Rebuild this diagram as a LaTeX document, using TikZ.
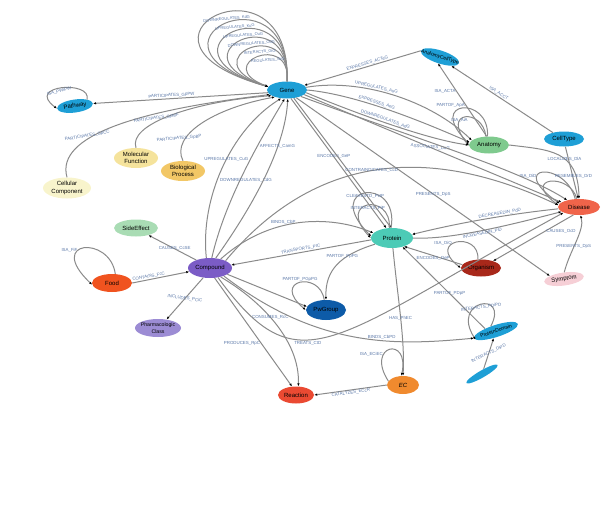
\documentclass[tikz,border=0pt]{standalone}
\usepackage{fontspec}
\setmainfont{Liberation Sans}
\usetikzlibrary{arrows.meta,shapes.geometric}
\definecolor{edgegray}{HTML}{8A8A8A}
\definecolor{lblblue}{HTML}{5B78A8}
\definecolor{genec}{HTML}{1E9FD6}
\definecolor{mfc}{HTML}{F5E39C}
\definecolor{bpc}{HTML}{F2C766}
\definecolor{ccc}{HTML}{F8F4CC}
\definecolor{anac}{HTML}{7FCA8E}
\definecolor{disc}{HTML}{F0644A}
\definecolor{protc}{HTML}{4CCBB6}
\definecolor{orgc}{HTML}{A8281A}
\definecolor{symc}{HTML}{F6CFD6}
\definecolor{sec}{HTML}{A9DCB4}
\definecolor{compc}{HTML}{7B5CC6}
\definecolor{foodc}{HTML}{F0531F}
\definecolor{pcc}{HTML}{9C8CD4}
\definecolor{pgc}{HTML}{0D5BA8}
\definecolor{reacc}{HTML}{EA4A32}
\definecolor{ecc}{HTML}{F08A2E}

\begin{document}
\begin{tikzpicture}[x=1pt, y=-1pt,
  ent/.style={ellipse, fill=#1, minimum width=40pt, minimum height=17pt, inner sep=0pt, align=center, font=\fontsize{6}{7.2}\selectfont},
  arrow/.style={-{Latex[length=3pt,width=2.4pt,color=black]}, draw=edgegray, line width=1pt},
  lbl/.style={font=\fontsize{4.4}{5}\selectfont, text=lblblue, inner sep=0.5pt}
]
\useasboundingbox (0,0) rectangle (615,512);

\node[ent=genec] (gene) at (287,90) {Gene};
\node[ent=genec, minimum width=36pt, minimum height=13pt, rotate=8] (pathway) at (75,106) {Pathway};
\node[ent=mfc, minimum width=44pt, minimum height=20pt] (molfun) at (136,158) {Molecular\\Function};
\node[ent=bpc, minimum width=44pt, minimum height=20pt] (bioproc) at (183,171) {Biological\\Process};
\node[ent=ccc, minimum width=48pt, minimum height=21pt, inner xsep=-3pt] (cellcomp) at (67,188) {Cellular\\Component};
\node[ent=genec, minimum height=13pt, rotate=-18, inner xsep=-8pt, font=\fontsize{5}{5}\selectfont] (actype) at (440,57) {AnatomyCellType};
\node[ent=anac] (anatomy) at (489,145) {Anatomy};
\node[ent=genec, minimum height=15pt] (celltype) at (564,139) {CellType};
\node[ent=disc, minimum width=42pt, minimum height=16pt] (disease) at (579,207) {Disease};
\node[ent=protc, minimum width=42pt, minimum height=20pt] (protein) at (392,238) {Protein};
\node[ent=orgc] (organism) at (481,268) {Organism};
\node[ent=symc, minimum height=13pt, rotate=8] (symptom) at (564,279) {Symptom};
\node[ent=sec, minimum width=44pt] (sideeff) at (136,228) {SideEffect};
\node[ent=compc, minimum width=44pt, minimum height=20pt] (compound) at (210,268) {Compound};
\node[ent=foodc, minimum height=18pt] (food) at (112,283) {Food};
\node[ent=pcc, minimum width=46pt, minimum height=18pt, inner xsep=-6pt, font=\fontsize{5.2}{7}\selectfont] (pharm) at (158,328) {Pharmacologic\\Class};
\node[ent=pgc, minimum height=20pt] (pwgroup) at (326,310) {PwGroup};
\node[ent=genec, minimum width=46pt, minimum height=12pt, rotate=18, inner xsep=-8pt, font=\fontsize{5}{5}\selectfont] (domain) at (496,331) {ProteinDomain};
\node[ent=genec, minimum width=36pt, minimum height=7pt, rotate=30] (domainb) at (482,374) {};
\node[ent=reacc, minimum width=36pt] (reaction) at (296,395) {Reaction};
\node[ent=ecc, minimum width=32pt, minimum height=18pt, font=\fontsize{6}{7}\selectfont\itshape] (ec) at (403,385) {EC};

\foreach \k/\rel in {0/DOWNREGULATES\_KdG, 1/UPREGULATES\_KuG, 2/UPREGULATES\_OuG, 3/DOWNREGULATES\_OdG, 4/INTERACTS\_GiG, 5/REGULATES\_GrG}
  \draw[arrow] (gene.north) .. controls (292,{-55+17*\k}) and ({100+22*\k},{40+5*\k}) .. node[lbl, pos=0.5, anchor=north, xshift=10pt, yshift=-1pt, rotate=5, font=\fontsize{4}{4.5}\selectfont] {\rel} (gene.170);

\draw[arrow] (gene.188) -- node[lbl, pos=0.55, above, sloped] {PARTICIPATES\_GpPW} (pathway.east);
\draw[arrow] (pathway.north east) .. controls (92,80) and (25,85) .. node[lbl, pos=0.55, below, rotate=15] {ISA\_PWiPW} (pathway.west);
\draw[arrow] (cellcomp.north) .. controls (55,135) and (140,110) .. node[lbl, pos=0.35, above, rotate=10] {PARTICIPATES\_GpCC} (gene.195);
\draw[arrow] (molfun.north) .. controls (128,125) and (190,102) .. node[lbl, pos=0.4, above, rotate=8] {PARTICIPATES\_GpMF} (gene.200);
\draw[arrow] (bioproc.north) .. controls (170,135) and (215,108) .. node[lbl, pos=0.25, above, xshift=-4pt, rotate=5] {PARTICIPATES\_GpBP} (gene.210);

\draw[arrow] (actype.west) -- node[lbl, pos=0.45, above, sloped] {EXPRESSES\_ACTeG} (gene.15);
\draw[arrow] (gene.8) .. controls (360,78) and (430,100) .. node[lbl, pos=0.4, above, sloped] {UPREGULATES\_AuG} (anatomy.165);
\draw[arrow] (gene.0) .. controls (360,95) and (430,125) .. node[lbl, pos=0.4, above, sloped] {EXPRESSES\_AeG} (anatomy.172);
\draw[arrow] (gene.-8) .. controls (360,115) and (430,140) .. node[lbl, pos=0.45, above, sloped] {DOWNREGULATES\_AdG} (anatomy.180);
\draw[arrow] (anatomy.100) .. controls (490,95) and (425,100) .. node[lbl, pos=0.5, above, xshift=-12pt] {PARTOF\_ApA} (anatomy.176);
\draw[arrow] (anatomy.110) .. controls (483,108) and (440,110) .. node[lbl, pos=0.5, below, xshift=-6pt] {ISA\_AiA} (anatomy.182);
\draw[arrow] (anatomy.105) -- node[lbl, pos=0.62, left] {ISA\_ACTA} (actype.south);
\draw[arrow] (celltype.150) -- node[lbl, pos=0.55, above, sloped] {ISA\_ACCT} (actype.-20);
\draw[arrow] (anatomy.east) .. controls (550,150) and (578,150) .. node[lbl, pos=0.58] {LOCALIZES\_DlA} (disease.north);
\draw[arrow] (celltype.-80) -- (disease.95);
\draw[arrow] (disease.115) .. controls (565,160) and (505,165) .. node[lbl, pos=0.65, left] {ISA\_DiD} (disease.170);
\draw[arrow] (disease.105) .. controls (570,172) and (520,177) .. node[lbl, pos=0.05, anchor=south, yshift=16pt, xshift=-2pt] {RESEMBLES\_DrD} (disease.175);

\draw[arrow] (gene.-15) -- node[lbl, pos=0.49, rotate=-5] {ASSOCIATES\_DaG} (disease.165);
\draw[arrow] (gene.-25) .. controls (420,140) and (520,170) .. (disease.150);
\draw[arrow] (gene.-40) -- node[lbl, pos=0.54] {PRESENTS\_DpS} (symptom.160);
\draw[arrow] (gene.-65) -- node[lbl, pos=0.45] {ENCODES\_GeP} (protein.120);
\draw[arrow] (gene.-50) -- (protein.95);

\draw[arrow] (compound.110) .. controls (200,200) and (230,130) .. node[lbl, pos=0.55] {UPREGULATES\_CuG} (gene.235);
\draw[arrow] (compound.80) .. controls (225,200) and (260,140) .. node[lbl, pos=0.45, xshift=6pt] {DOWNREGULATES\_CdG} (gene.255);
\draw[arrow] (compound.60) .. controls (250,210) and (285,150) .. node[lbl, pos=0.7] {AFFECTS\_CamG} (gene.275);
\draw[arrow] (compound.150) -- node[lbl, pos=0.45] {CAUSES\_CcSE} (sideeff.-30);
\draw[arrow] (food.east) -- node[lbl, pos=0.3, above, sloped] {CONTAINS\_FcC} (compound.190);
\draw[arrow] (food.70) .. controls (110,235) and (45,240) .. node[lbl, pos=0.6, left] {ISA\_FiF} (food.185);
\draw[arrow] (compound.235) -- node[lbl, pos=0.5, rotate=-8] {INCLUDES\_PCiC} (pharm.45);
\draw[arrow] (protein.185) -- node[lbl, pos=0.5, above, sloped] {TRANSPORTS\_PtC} (compound.8);
\draw[arrow] (compound.40) .. controls (270,215) and (330,215) .. node[lbl, pos=0.4, above] {BINDS\_CbP} (protein.165);
\draw[arrow] (compound.25) .. controls (310,160) and (420,140) .. node[lbl, pos=0.5] {CONTRAINDICATES\_CcD} (disease.175);

\draw[arrow] (protein.95) .. controls (400,175) and (320,185) .. node[lbl, pos=0.5, below] {CLEAVESTO\_PctP} (protein.175);
\draw[arrow] (protein.105) .. controls (392,192) and (335,200) .. node[lbl, pos=0.5, below] {INTERACTS\_PiP} (protein.180);
\draw[arrow] (disease.185) .. controls (500,215) and (450,225) .. node[lbl, pos=0.35, above, sloped] {DECREASEDIN\_PdD} (protein.10);
\draw[arrow] (protein.0) .. controls (450,240) and (510,225) .. node[lbl, pos=0.5, below, sloped] {INCREASEDIN\_PiD} (disease.195);
\draw[arrow] (organism.110) .. controls (480,230) and (425,240) .. node[lbl, pos=0.58, left] {ISA\_OiO} (organism.180);
\draw[arrow] (organism.170) -- node[lbl, pos=0.5, below] {ENCODES\_OeP} (protein.-35);
\draw[arrow] (disease.235) -- node[lbl, pos=0.35, right] {CAUSES\_OcD} (organism.30);
\draw[arrow] (symptom.80) .. controls (570,250) and (585,230) .. node[lbl, pos=0.4] {PRESENTS\_DpS} (disease.-80);

\draw[arrow] (protein.200) .. controls (340,255) and (325,270) .. node[lbl, pos=0.4, above] {PARTOF\_PpPG} (pwgroup.north);
\draw[arrow] (pwgroup.100) .. controls (320,270) and (270,280) .. node[lbl, pos=0.5, above] {PARTOF\_PGpPG} (pwgroup.180);
\draw[arrow] (compound.-20) -- (pwgroup.170);
\draw[arrow] (compound.-65) -- node[lbl, pos=0.6, left] {PRODUCES\_RpC} (reaction.115);
\draw[arrow] (compound.-40) .. controls (260,300) and (300,340) .. node[lbl, pos=0.45] {CONSUMES\_RcC} (reaction.75);
\draw[arrow] (compound.-50) .. controls (300,390) and (330,340) .. node[lbl, pos=0.4, below] {TREATS\_CtD} (disease.200);
\draw[arrow] (compound.-30) .. controls (320,350) and (400,345) .. node[lbl, pos=0.6, above] {BINDS\_CbPD} (domain.west);

\draw[arrow] (protein.-85) .. controls (398,300) and (405,340) .. node[lbl, pos=0.5] {HAS\_PhEC} (ec.north);
\draw[arrow] (ec.165) .. controls (365,345) and (410,335) .. node[lbl, pos=0.35, left] {ISA\_ECiEC} (ec.100);
\draw[arrow] (ec.west) -- node[lbl, pos=0.5, below, sloped] {CATALYZES\_ECcR} (reaction.east);
\draw[arrow] (domain.150) -- node[lbl, pos=0.43] {PARTOF\_PDpP} (protein.-40);
\draw[arrow] (domain.120) .. controls (510,290) and (450,300) .. node[lbl, pos=0.5, below, rotate=8] {INTERACTS\_PDiPD} (domain.185);
\draw[arrow] (domainb) -- node[lbl, rotate=25] {INTERACTS\_DiPD} (domain);
\end{tikzpicture}
\end{document}
